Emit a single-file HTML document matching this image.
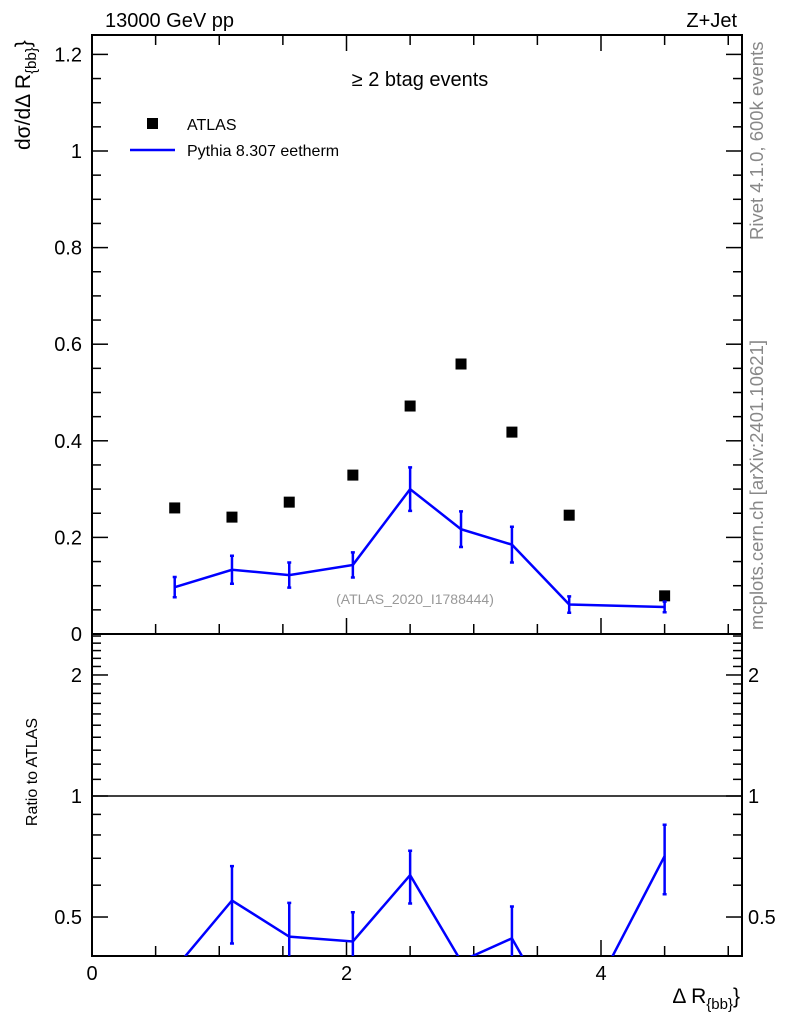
<!DOCTYPE html>
<html><head><meta charset="utf-8"><style>
html,body{margin:0;background:#fff;overflow:hidden;width:786px;height:1024px}
svg{display:block;font-family:"Liberation Sans",sans-serif}
</style></head><body>
<svg id="c" width="786" height="1024" xmlns="http://www.w3.org/2000/svg">
<defs>
<clipPath id="cm"><rect x="92" y="35" width="650" height="599"/></clipPath>
<clipPath id="cr"><rect x="92" y="634" width="650" height="322"/></clipPath>
</defs>
<g id="axes"></g>
<g id="marks"></g>
<text x="105" y="27" font-size="20">13000 GeV pp</text>
<text x="737" y="27" font-size="20" text-anchor="end">Z+Jet</text>
<text x="420" y="86" font-size="20" text-anchor="middle">≥ 2 btag events</text>
<rect x="147" y="118" width="11" height="11" fill="#000"/>
<text x="187" y="130" font-size="16">ATLAS</text>
<line x1="130" y1="150" x2="175" y2="150" stroke="#0000ff" stroke-width="2.5"/>
<text x="187" y="156" font-size="16">Pythia 8.307 eetherm</text>
<text x="415" y="604" font-size="14" fill="#999" text-anchor="middle">(ATLAS_2020_I1788444)</text>
<text transform="translate(763,240) rotate(-90)" font-size="18.5" fill="#888">Rivet 4.1.0,  600k events</text>
<text transform="translate(763,630) rotate(-90)" font-size="18.5" fill="#888">mcplots.cern.ch [arXiv:2401.10621]</text>
<text transform="translate(30,150) rotate(-90)" font-size="21" text-anchor="start">dσ/dΔ R<tspan font-size="15" dy="6">{bb}</tspan><tspan dy="-6">}</tspan></text>
<text transform="translate(37,772) rotate(-90)" font-size="16" text-anchor="middle">Ratio to ATLAS</text>
<text x="740" y="1003" font-size="21" text-anchor="end">Δ R<tspan font-size="15" dy="6">{bb}</tspan><tspan dy="-6">}</tspan></text>
</svg>
<script>
const xs=[0.65,1.1,1.55,2.05,2.5,2.9,3.3,3.75,4.5];
const atlas=[0.261,0.242,0.273,0.329,0.472,0.559,0.418,0.246,0.079];
const pythia=[0.097,0.133,0.122,0.143,0.300,0.217,0.185,0.061,0.056];
const pyErr=[0.021,0.029,0.026,0.026,0.045,0.037,0.037,0.017,0.011];
const yTicks=[0,0.2,0.4,0.6,0.8,1,1.2];
const yTickLabels=["0","0.2","0.4","0.6","0.8","1","1.2"];
const xTicks=[0,2,4];
const rTicks=[0.5,1,2];
const NS="http://www.w3.org/2000/svg";
const X=v=>92+v*127.25, Y=v=>634-v*483, R=v=>796-Math.log10(v)*402;
const ax=document.getElementById('axes'), mk=document.getElementById('marks');
function el(t,a,p){const e=document.createElementNS(NS,t);for(const k in a)e.setAttribute(k,a[k]);(p||ax).appendChild(e);return e;}
let f=el('rect',{x:92,y:35,width:650,height:921,fill:'none',stroke:'#000','stroke-width':2});


let d=el('line',{x1:92,y1:634,x2:742,y2:634,stroke:'#000','stroke-width':2});


let u=el('line',{x1:92,y1:796,x2:742,y2:796,stroke:'#000','stroke-width':1.5});


for(let v=0;v<=5.0001;v+=0.5){const maj=Math.abs(v%2)<1e-6,l=maj?16:10;
 for(const yb of [634,956]){el('line',{x1:X(v),y1:yb,x2:X(v),y2:yb-l,stroke:'#000','stroke-width':1.5});}
 el('line',{x1:X(v),y1:35,x2:X(v),y2:35+l,stroke:'#000','stroke-width':1.5});}
xTicks.forEach(v=>{const t=el('text',{x:X(v),y:980,'font-size':20,'text-anchor':'middle'});t.textContent=v;
 
 });
for(let v=0;v<=1.24;v+=0.05){const maj=Math.abs((v/0.2)-Math.round(v/0.2))<1e-6,l=maj?16:9;
 el('line',{x1:92,y1:Y(v),x2:92+l,y2:Y(v),stroke:'#000','stroke-width':1.5});
 el('line',{x1:742,y1:Y(v),x2:742-l,y2:Y(v),stroke:'#000','stroke-width':1.5});}
yTicks.forEach((v,i)=>{const t=el('text',{x:82,y:Y(v)+7,'font-size':20,'text-anchor':'end'});t.textContent=yTickLabels[i];
 
 });
for(let v=0.4;v<=2.5;v=Math.round((v+0.1)*10)/10){const maj=rTicks.includes(v),l=maj?16:9;
 el('line',{x1:92,y1:R(v),x2:92+l,y2:R(v),stroke:'#000','stroke-width':1.5});
 el('line',{x1:742,y1:R(v),x2:742-l,y2:R(v),stroke:'#000','stroke-width':1.5});}
rTicks.forEach(v=>{for(const [x,a] of [[82,'end'],[748,'start']]){const t=el('text',{x:x,y:R(v)+7,'font-size':20,'text-anchor':a});t.textContent=v;
 
 }});
const gm=el('g',{'clip-path':'url(#cm)'},mk);
xs.forEach((x,i)=>{const r=el('rect',{x:X(x)-5.5,y:Y(atlas[i])-5.5,width:11,height:11,fill:'#000'},gm);
 
 });
const pl=el('polyline',{points:xs.map((x,i)=>X(x)+','+Y(pythia[i])).join(' '),fill:'none',stroke:'#0000ff','stroke-width':2.5},gm);


xs.forEach((x,i)=>{const a=Y(pythia[i]+pyErr[i]),b=Y(pythia[i]-pyErr[i]);
 const e=el('path',{d:`M${X(x)},${a}V${b}M${X(x)-2},${a}h4M${X(x)-2},${b}h4`,stroke:'#0000ff','stroke-width':2.5,fill:'none'},gm);
 
 });
const gr=el('g',{'clip-path':'url(#cr)'},mk);
const rat=xs.map((x,i)=>pythia[i]/atlas[i]);
const rl=el('polyline',{points:xs.map((x,i)=>X(x)+','+R(rat[i])).join(' '),fill:'none',stroke:'#0000ff','stroke-width':2.5},gr);


xs.forEach((x,i)=>{if(rat[i]<0.4)return;const re=pyErr[i]/atlas[i];const a=R(rat[i]+re),b=R(Math.max(rat[i]-re,0.01));
 const e=el('path',{d:`M${X(x)},${a}V${b}M${X(x)-2},${a}h4M${X(x)-2},${b}h4`,stroke:'#0000ff','stroke-width':2.5,fill:'none'},gr);
 
 });
</script>
</body></html>
